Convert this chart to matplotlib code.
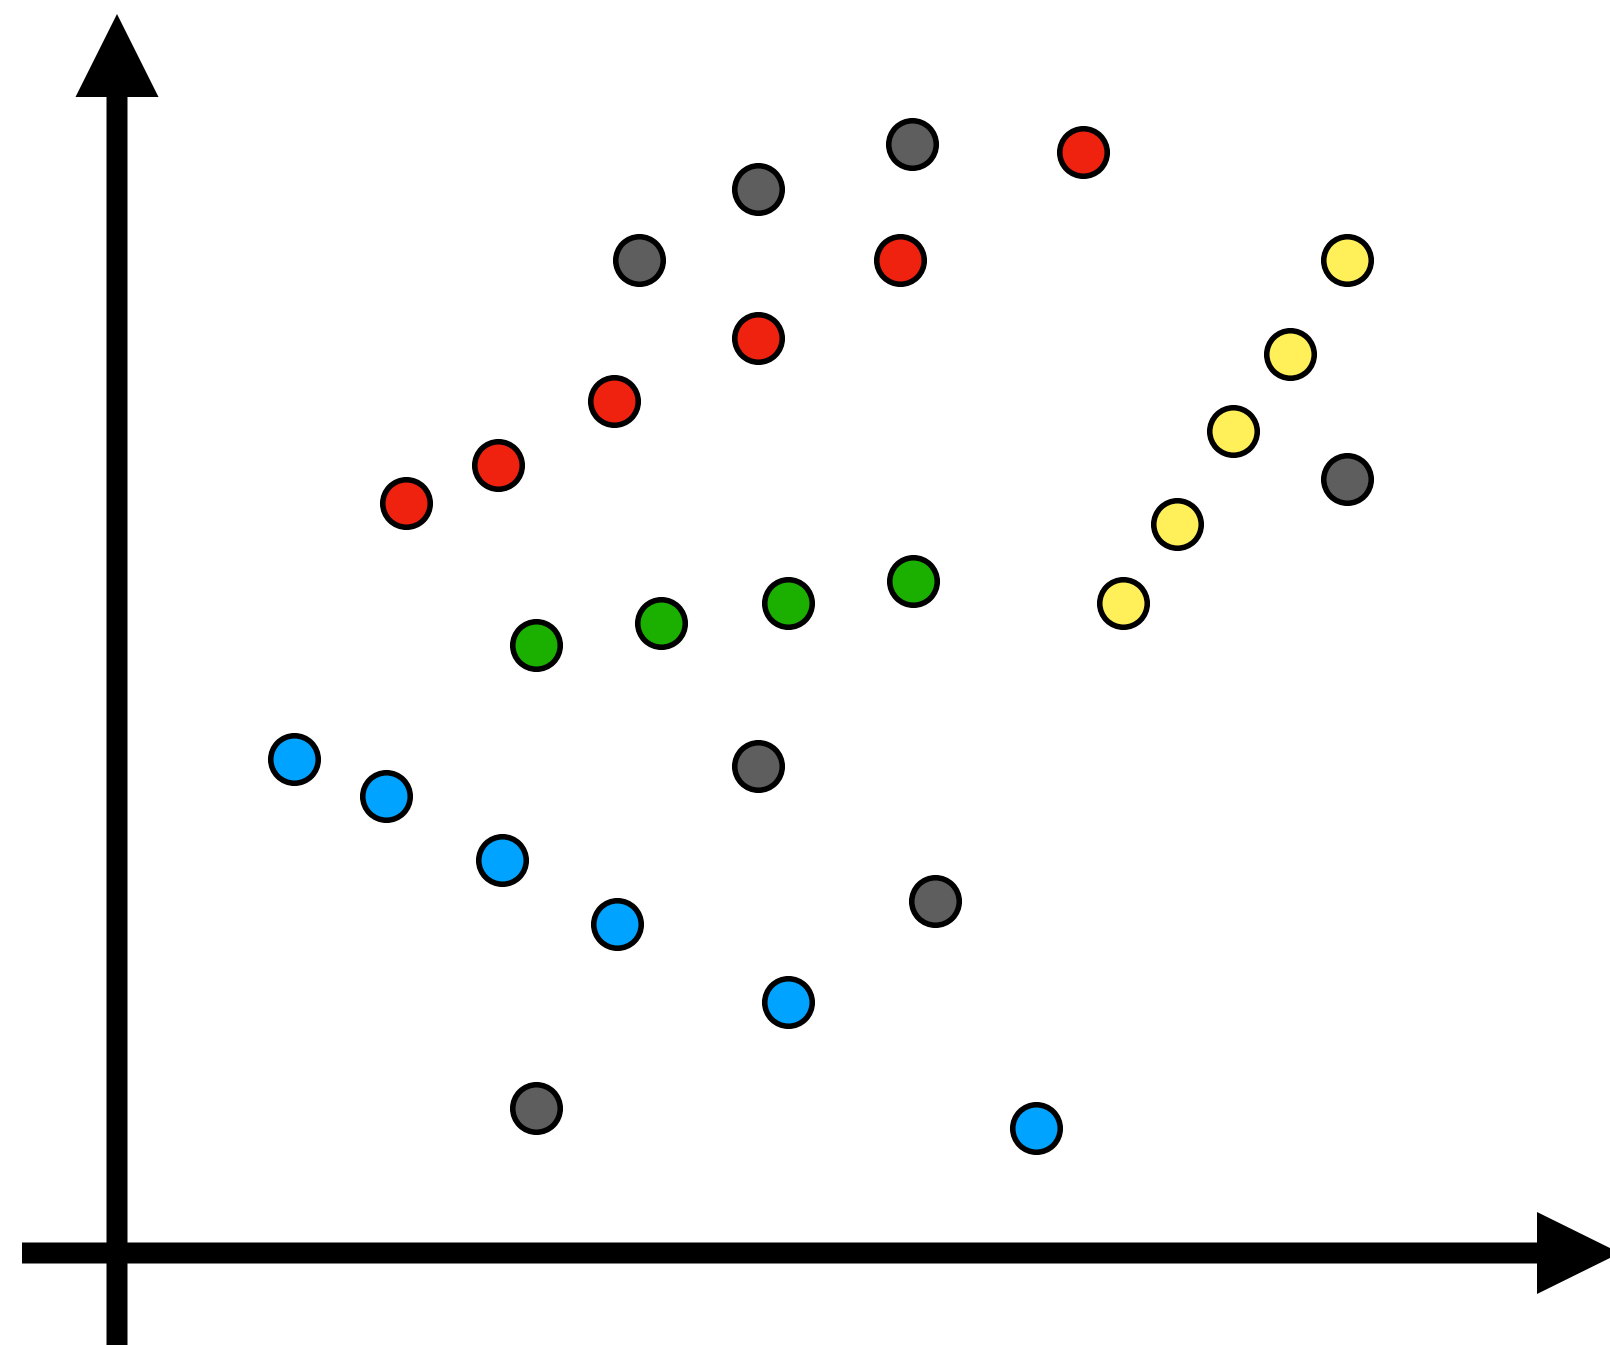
import matplotlib
matplotlib.use('Agg')
import matplotlib.pyplot as plt
import numpy as np

# point positions, measured from the axis crossing (x right, y up)
gray_x = [795, 641, 522, 1230, 641, 818, 419]
gray_y = [1109, 1064, 993, 774, 487, 352, 145]
red_x = [966, 783, 641, 497, 381, 289]
red_y = [1101, 993, 915, 852, 788, 750]
yellow_x = [1230, 1173, 1116, 1060, 1006]
yellow_y = [993, 899, 822, 729, 650]
green_x = [419, 544, 671, 796]
green_y = [608, 630, 650, 672]
blue_x = [177, 269, 385, 500, 671, 919]
blue_y = [494, 457, 393, 329, 251, 125]

groups = [
    (gray_x, gray_y, '#5e5e5e'),
    (red_x, red_y, '#ee220f'),
    (yellow_x, yellow_y, '#fff05a'),
    (green_x, green_y, '#1bb000'),
    (blue_x, blue_y, '#00a3ff'),
]

fig = plt.figure(figsize=(16.1, 13.45), dpi=100)
ax = fig.add_axes([0, 0, 1, 1])
ax.set_xlim(-117, 1493)
ax.set_ylim(-92, 1253)
ax.axis('off')

# axes drawn as arrows
ax.arrow(0, -100, 0, 1339, width=21, head_width=83, head_length=83,
         length_includes_head=True, fc='black', ec='none')
ax.arrow(-95, 0, 1598, 0, width=21, head_width=82, head_length=83,
         length_includes_head=True, fc='black', ec='none')

for xs, ys, col in groups:
    ax.scatter(xs, ys, s=1170, c=col, edgecolors='black', linewidths=4, zorder=3)

fig.savefig('out.png', dpi=100)
